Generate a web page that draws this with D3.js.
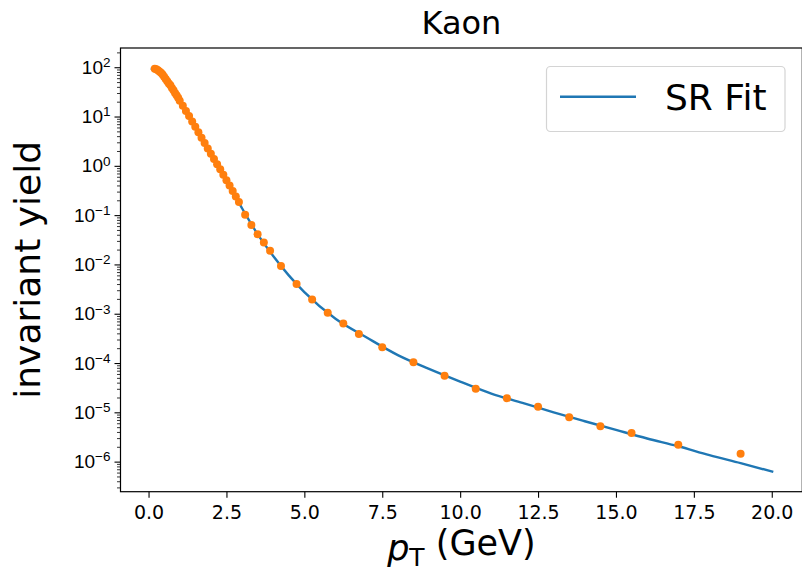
<!DOCTYPE html>
<html lang="en">
<head>
<meta charset="utf-8">
<title>Kaon</title>
<style>
body { margin: 0; background: #fff; }
svg { display: block; font-family: "DejaVu Sans", sans-serif; }
.tick text { fill: #000; }
</style>
</head>
<body>
<svg id="chart" width="802" height="573"></svg>
<script src="https://cdn.jsdelivr.net/npm/d3@7"></script>
<script>

// measured points (pT in GeV, invariant yield)
var ptData = [0.2, 0.25, 0.3, 0.35, 0.4, 0.45, 0.5, 0.55, 0.6, 0.65, 0.7, 0.75, 0.8, 0.85, 0.9, 0.95, 1.0,
  1.1, 1.2, 1.3, 1.4, 1.5, 1.6, 1.7, 1.8, 1.9, 2.0, 2.1, 2.2, 2.3, 2.4, 2.5, 2.6, 2.7, 2.8, 2.9,
  3.1, 3.3, 3.5, 3.7, 3.9, 4.25, 4.75, 5.25, 5.75, 6.25, 6.75, 7.5, 8.5, 9.5, 10.5, 11.5, 12.5,
  13.5, 14.5, 15.5, 17, 19];
var yieldData = [93, 91, 87, 82, 77, 71, 64, 58, 52, 47, 43, 38, 34, 30, 27, 24, 21,
  16.5, 13, 10.2, 7.9, 6.2, 4.8, 3.7, 2.9, 2.25, 1.75, 1.38, 1.08, 0.85, 0.66, 0.51, 0.40, 0.31, 0.24, 0.185,
  0.102, 0.063, 0.041, 0.028, 0.019, 0.0093, 0.0040, 0.00195, 0.00105, 0.00063, 0.00039, 0.00021, 1.04e-4,
  5.5e-5, 3.0e-5, 1.94e-5, 1.29e-5, 7.9e-6, 5.2e-6, 3.8e-6, 2.2e-6, 1.44e-6];

// SR fit curve
var ptFit = [0.07, 0.3, 0.6, 1.0, 1.5, 2.0, 2.5, 3.0, 3.5, 4.0, 4.5, 5.0, 6.0, 7.0, 8.0, 9.0, 10.0,
  11.0, 12.0, 13.0, 14.0, 15.0, 16.0, 17.0, 18.0, 19.0, 20.05];
var yieldFit = [93, 89, 52, 21, 6.2, 1.78, 0.51, 0.138, 0.041, 0.0148, 0.0060, 0.00275, 7.9e-4, 3.3e-4,
  1.45e-4, 7.6e-5, 4.2e-5, 2.4e-5, 1.55e-5, 1.0e-5, 6.6e-6, 4.4e-6, 2.95e-6, 2.05e-6, 1.35e-6, 9.3e-7, 6.2e-7];

var xTicks = [0, 2.5, 5, 7.5, 10, 12.5, 15, 17.5, 20];
var yExponents = [-6, -5, -4, -3, -2, -1, 0, 1, 2];

function drawChart() {
  var svg = d3.select("#chart");
  var m = {left: 120.5, right: 802.3, top: 48, bottom: 491.7};

  var x = d3.scaleLinear().domain([-0.9, 20.98]).range([m.left, m.right]);
  var y = d3.scaleLog().domain([Math.pow(10, -6.61), Math.pow(10, 2.39)]).range([m.bottom, m.top]);

  function sup(e) { return String(e).replace("-", "\u2212"); }

  // x axis
  var xAxis = svg.append("g")
    .attr("transform", "translate(0," + m.bottom + ")")
    .call(d3.axisBottom(x).tickValues(xTicks).tickSize(6).tickPadding(8)
      .tickFormat(d3.format(".1f")));
  xAxis.select(".domain").remove();
  xAxis.selectAll("line").attr("stroke", "#000").attr("stroke-width", 1.1);
  xAxis.selectAll("text").attr("font-size", 19).attr("font-family", "DejaVu Sans");

  // y axis: minor then major ticks
  var yMajor = yExponents.map(function(e) { return Math.pow(10, e); });
  var yMinor = [];
  for (var e = -7; e <= 2; e++) {
    for (var k = 2; k <= 9; k++) {
      var v = k * Math.pow(10, e);
      if (v > y.domain()[0] && v < y.domain()[1]) yMinor.push(v);
    }
  }

  var yAxisMinor = svg.append("g")
    .attr("transform", "translate(" + m.left + ",0)")
    .call(d3.axisLeft(y).tickValues(yMinor).tickSize(3.5).tickFormat(""));
  yAxisMinor.select(".domain").remove();
  yAxisMinor.selectAll("line").attr("stroke", "#000").attr("stroke-width", 0.8);

  var yAxis = svg.append("g")
    .attr("transform", "translate(" + m.left + ",0)")
    .call(d3.axisLeft(y).tickValues(yMajor).tickSize(6).tickFormat(""));
  yAxis.select(".domain").remove();
  yAxis.selectAll("line").attr("stroke", "#000").attr("stroke-width", 1.1);
  yAxis.selectAll(".tick").each(function(d, i) {
    var t = d3.select(this).append("text")
      .attr("x", -10)
      .attr("dy", "0.32em")
      .attr("text-anchor", "end")
      .attr("font-size", 19)
      .attr("fill", "#000");
    t.append("tspan").text("10");
    t.append("tspan").attr("dy", "-0.5em").attr("font-size", 13.5).text(sup(yExponents[i]));
  });

  // fit line
  var line = d3.line()
    .x(function(d, i) { return x(ptFit[i]); })
    .y(function(d, i) { return y(yieldFit[i]); })
    .curve(d3.curveMonotoneX);

  svg.append("path")
    .datum(ptFit)
    .attr("d", line)
    .attr("fill", "none")
    .attr("stroke", "#1f77b4")
    .attr("stroke-width", 2.4);

  // data points
  svg.append("g").selectAll("circle")
    .data(ptData)
    .join("circle")
    .attr("cx", function(d) { return x(d); })
    .attr("cy", function(d, i) { return y(yieldData[i]); })
    .attr("r", 4)
    .attr("fill", "#ff7f0e");

  // frame
  svg.append("rect")
    .attr("x", m.left).attr("y", m.top)
    .attr("width", m.right - m.left).attr("height", m.bottom - m.top)
    .attr("fill", "none").attr("stroke", "#000").attr("stroke-width", 1.2);

  // legend
  var lg = svg.append("g");
  lg.append("rect")
    .attr("x", 546.5).attr("y", 66.5).attr("width", 238.5).attr("height", 65)
    .attr("rx", 4).attr("fill", "#fff").attr("fill-opacity", 0.8)
    .attr("stroke", "#d4d4d4").attr("stroke-width", 1.2);
  lg.append("line")
    .attr("x1", 560).attr("x2", 636).attr("y1", 96.7).attr("y2", 96.7)
    .attr("stroke", "#1f77b4").attr("stroke-width", 2.4);
  lg.append("text")
    .attr("x", 665).attr("y", 110)
    .attr("font-size", 36).attr("fill", "#000")
    .text("SR Fit");

  // title
  svg.append("text")
    .attr("x", (m.left + m.right) / 2).attr("y", 34)
    .attr("text-anchor", "middle").attr("font-size", 32).attr("fill", "#000")
    .text("Kaon");

  // axis labels
  var xl = svg.append("text")
    .attr("x", (m.left + m.right) / 2).attr("y", 560)
    .attr("text-anchor", "middle").attr("font-size", 35).attr("fill", "#000");
  xl.append("tspan").attr("font-style", "italic").text("p");
  xl.append("tspan").attr("dy", "0.22em").attr("font-size", 25).text("T");
  xl.append("tspan").attr("dy", "-0.3em").text(" (GeV)");

  svg.append("text")
    .attr("transform", "translate(40," + ((m.top + m.bottom) / 2) + ") rotate(-90)")
    .attr("text-anchor", "middle").attr("font-size", 36).attr("fill", "#000")
    .text("invariant yield");
}

drawChart();

</script>
</body>
</html>
